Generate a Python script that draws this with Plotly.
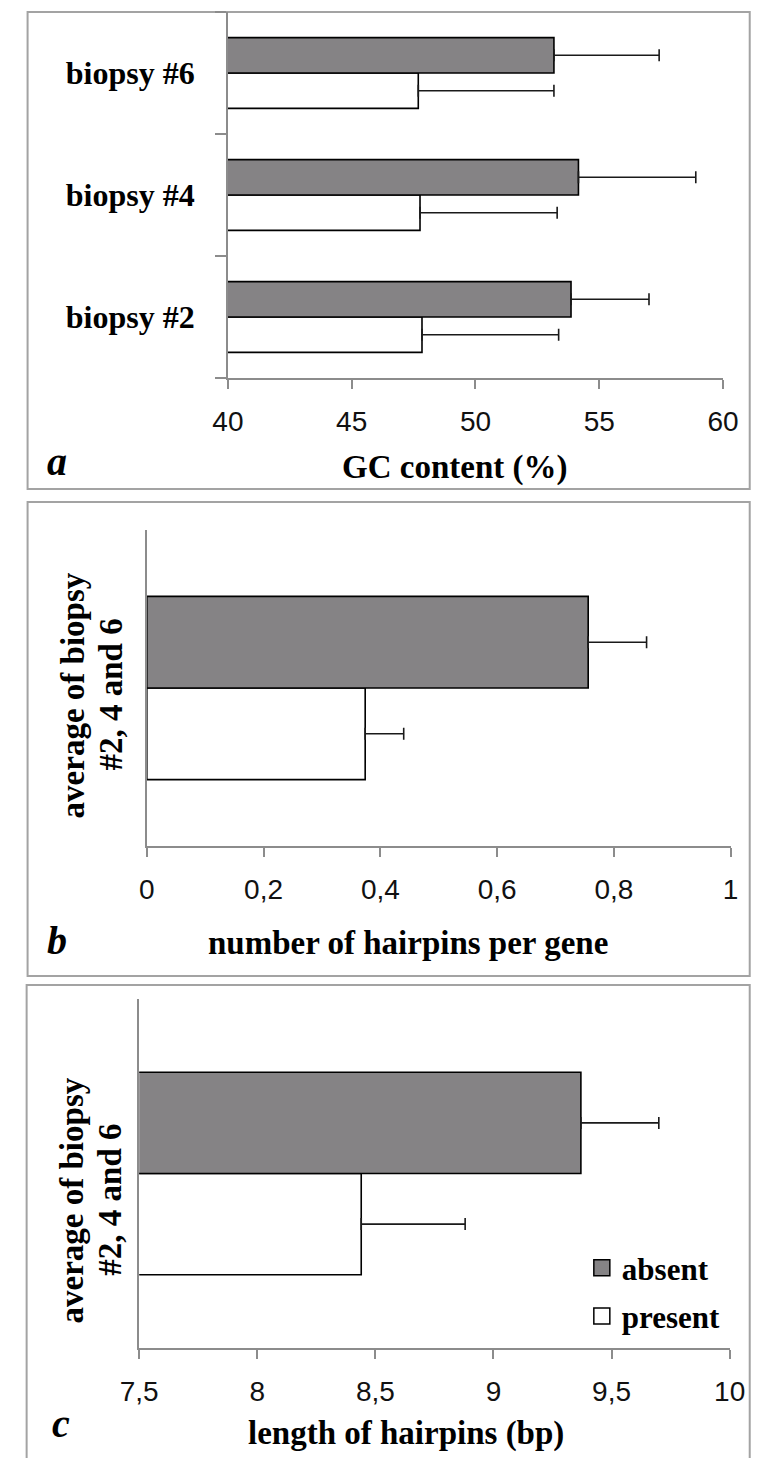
import plotly.graph_objects as go

# ---------------- data ----------------
biopsies = ["biopsy #2", "biopsy #4", "biopsy #6"]
gc_absent = [53.86, 54.16, 53.17]
gc_absent_err = [3.15, 4.74, 4.25]
gc_present = [47.84, 47.76, 47.69]
gc_present_err = [5.52, 5.54, 5.48]

avg_cat = ["average of biopsy #2, 4 and 6"]
hp_absent = [0.756]
hp_absent_err = [0.100]
hp_present = [0.374]
hp_present_err = [0.066]

len_absent = [9.37]
len_absent_err = [0.33]
len_present = [8.44]
len_present_err = [0.44]

series_names = ["absent", "present"]
x_ticks_a = [40, 45, 50, 55, 60]
x_ticks_b = [0, 0.2, 0.4, 0.6, 0.8, 1]
x_ticks_c = [7.5, 8, 8.5, 9, 9.5, 10]

# ---------------- style ----------------
W, H = 760, 1458
GRAY = "#858385"
AXIS = "#8c8c8c"
BORDER = "#a3a3a3"
SERIF = "Liberation Serif, Times New Roman, serif"
SANS = "Liberation Sans, Arial, sans-serif"

def px(x):
    return x / W

def py(y):
    return 1 - y / H

fig = go.Figure()

def add_pair(xa, ya, cats, pres, pres_err, absn, absn_err):
    err_style = dict(type="data", symmetric=False, color="#1a1a1a", thickness=1.6, width=6)
    fig.add_trace(go.Bar(
        y=cats, x=pres, orientation="h", name="present", showlegend=False,
        marker=dict(color="white", line=dict(color="black", width=1.6)),
        error_x=dict(array=pres_err, arrayminus=[0] * len(pres), **err_style),
        xaxis=xa, yaxis=ya,
    ))
    fig.add_trace(go.Bar(
        y=cats, x=absn, orientation="h", name="absent", showlegend=False,
        marker=dict(color=GRAY, line=dict(color="black", width=1.6)),
        error_x=dict(array=absn_err, arrayminus=[0] * len(absn), **err_style),
        xaxis=xa, yaxis=ya,
    ))

add_pair("x", "y", biopsies, gc_present, gc_present_err, gc_absent, gc_absent_err)
add_pair("x2", "y2", avg_cat, hp_present, hp_present_err, hp_absent, hp_absent_err)
add_pair("x3", "y3", avg_cat, len_present, len_present_err, len_absent, len_absent_err)

# legend proxies
fig.add_trace(go.Scatter(x=[None], y=[None], mode="markers", name=series_names[0],
                         legendgroup="g1",
                         marker=dict(symbol="square", size=16, color=GRAY, line=dict(color="black", width=1.5)),
                         xaxis="x3", yaxis="y3"))
fig.add_trace(go.Scatter(x=[None], y=[None], mode="markers", name=series_names[1],
                         legendgroup="g2",
                         marker=dict(symbol="square", size=16, color="white", line=dict(color="black", width=1.5)),
                         xaxis="x3", yaxis="y3"))

xcommon = dict(showgrid=False, zeroline=False, showline=True, linecolor=AXIS, linewidth=1.5,
               ticks="outside", ticklen=9, tickcolor=AXIS, tickwidth=1.5,
               tickfont=dict(family=SANS, size=28, color="#111"), ticklabelstandoff=9)
ycommon = dict(type="category", showgrid=False, zeroline=False, showline=True,
               linecolor=AXIS, linewidth=1.5)

fig.update_layout(
    width=W, height=H, margin=dict(l=0, r=0, t=0, b=0),
    paper_bgcolor="white", plot_bgcolor="white",
    barmode="group", bargap=0.42, bargroupgap=0,
    separators=", ",
    showlegend=True,
    legend=dict(x=px(590), y=py(1241), xanchor="left", yanchor="top",
                font=dict(family=SERIF, size=31, color="black", weight="bold"),
                tracegroupgap=5, bgcolor="rgba(0,0,0,0)", itemclick=False),
    xaxis=dict(domain=[px(219), px(738)], anchor="y", range=[40, 60],
               tickvals=x_ticks_a, **xcommon),
    yaxis=dict(domain=[py(378), py(12)], anchor="x", categoryorder="array",
               categoryarray=biopsies, ticks="outside", tickson="boundaries",
               ticklen=11, tickcolor=AXIS, tickwidth=1.5, ticklabelstandoff=25,
               tickfont=dict(family=SERIF, size=32, color="black", weight="bold"), **ycommon),
    xaxis2=dict(domain=[px(134), px(746)], anchor="y2", range=[0, 1],
                tickvals=x_ticks_b, **xcommon),
    yaxis2=dict(domain=[py(846), py(530)], anchor="x2", showticklabels=False, ticks="", **ycommon),
    xaxis3=dict(domain=[px(126), px(745)], anchor="y3", range=[7.5, 10],
                tickvals=x_ticks_c, **xcommon),
    yaxis3=dict(domain=[py(1348), py(999)], anchor="x3", showticklabels=False, ticks="", **ycommon),
)

title_font = dict(family=SERIF, size=33, color="black", weight="bold")
letter_font = dict(family=SERIF, size=40, color="black", weight="bold", style="italic")

annos = [
    ("GC content (%)", 457, 467, 0, title_font),
    ("number of hairpins per gene", 408, 943, 0, title_font),
    ("length of hairpins (bp)", 406, 1433, 0, title_font),
    ("a", 40, 461, 0, letter_font),
    ("b", 40, 940, 0, letter_font),
    ("c", 44, 1423, 0, letter_font),
    ("average of biopsy", 57, 695, -90, title_font),
    ("#2, 4 and 6", 96, 695, -90, title_font),
    ("average of biopsy", 56, 1200, -90, title_font),
    ("#2, 4 and 6", 95, 1200, -90, title_font),
]
for text, x, y, ang, f in annos:
    fig.add_annotation(text=text, x=px(x), y=py(y), xref="paper", yref="paper",
                       xanchor="center", yanchor="middle", showarrow=False,
                       textangle=ang, font=f)

# panel frames (right side runs off the picture, as in the original)
for x0, y0, y1 in [(9, 12, 489), (9, 502, 976), (8, 985, 1470)]:
    fig.add_shape(type="rect", xref="paper", yref="paper",
                  x0=px(x0), x1=px(766), y0=py(y1), y1=py(y0),
                  line=dict(color=BORDER, width=2), fillcolor="rgba(0,0,0,0)", layer="below")

fig.write_html(
    "out.html",
    config={"displayModeBar": False},
    post_script="document.body.style.margin='0';document.body.style.padding='0';"
                "document.documentElement.style.overflow='hidden';document.body.style.overflow='hidden';",
)
